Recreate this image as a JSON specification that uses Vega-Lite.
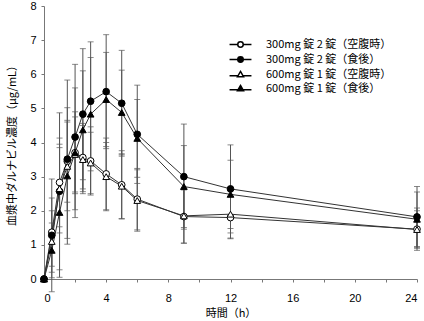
{
  "$schema": "https://vega.github.io/schema/vega-lite/v6.json",
  "width": 373,
  "height": 273,
  "autosize": {"type": "none"},
  "padding": {"left": 44, "top": 6, "right": 7, "bottom": 42},
  "background": "white",
  "config": {
    "view": {"stroke": null},
    "font": "Liberation Sans",
    "axis": {"grid": false, "domainColor": "#777", "tickColor": "#777", "tickSize": 3, "labelColor": "#000", "labelFontSize": 11, "labelFont": "Liberation Sans", "titleFont": "Noto Sans CJK JP", "titleFontSize": 11, "titleFontWeight": "normal", "titleColor": "#000"}
  },
  "resolve": {"axis": {"x": "independent"}, "scale": {"shape": "independent", "fill": "independent"}},
  "data": {
    "values": [
      {"s": "300mg 錠 2 錠（空腹時）", "t": 0, "m": 0, "sd": 0},
      {"s": "300mg 錠 2 錠（空腹時）", "t": 0.5, "m": 1.37, "sd": 1.0},
      {"s": "300mg 錠 2 錠（空腹時）", "t": 1, "m": 2.83, "sd": 1.3},
      {"s": "300mg 錠 2 錠（空腹時）", "t": 1.5, "m": 3.45, "sd": 1.2},
      {"s": "300mg 錠 2 錠（空腹時）", "t": 2, "m": 3.7, "sd": 1.2},
      {"s": "300mg 錠 2 錠（空腹時）", "t": 2.5, "m": 3.56, "sd": 1.0},
      {"s": "300mg 錠 2 錠（空腹時）", "t": 3, "m": 3.46, "sd": 1.0},
      {"s": "300mg 錠 2 錠（空腹時）", "t": 4, "m": 3.08, "sd": 1.05},
      {"s": "300mg 錠 2 錠（空腹時）", "t": 5, "m": 2.76, "sd": 1.0},
      {"s": "300mg 錠 2 錠（空腹時）", "t": 6, "m": 2.34, "sd": 0.9},
      {"s": "300mg 錠 2 錠（空腹時）", "t": 9, "m": 1.83, "sd": 0.78},
      {"s": "300mg 錠 2 錠（空腹時）", "t": 12, "m": 1.8, "sd": 0.62},
      {"s": "300mg 錠 2 錠（空腹時）", "t": 24, "m": 1.46, "sd": 0.62},
      {"s": "300mg 錠 2 錠（食後）", "t": 0, "m": 0, "sd": 0},
      {"s": "300mg 錠 2 錠（食後）", "t": 0.5, "m": 1.28, "sd": 1.65},
      {"s": "300mg 錠 2 錠（食後）", "t": 1, "m": 2.57, "sd": 2.3},
      {"s": "300mg 錠 2 錠（食後）", "t": 1.5, "m": 3.51, "sd": 2.32},
      {"s": "300mg 錠 2 錠（食後）", "t": 2, "m": 4.16, "sd": 2.13},
      {"s": "300mg 錠 2 錠（食後）", "t": 2.5, "m": 4.83, "sd": 1.92},
      {"s": "300mg 錠 2 錠（食後）", "t": 3, "m": 5.21, "sd": 1.74},
      {"s": "300mg 錠 2 錠（食後）", "t": 4, "m": 5.49, "sd": 1.67},
      {"s": "300mg 錠 2 錠（食後）", "t": 5, "m": 5.15, "sd": 1.55},
      {"s": "300mg 錠 2 錠（食後）", "t": 6, "m": 4.24, "sd": 1.44},
      {"s": "300mg 錠 2 錠（食後）", "t": 9, "m": 3.0, "sd": 1.54},
      {"s": "300mg 錠 2 錠（食後）", "t": 12, "m": 2.64, "sd": 1.29},
      {"s": "300mg 錠 2 錠（食後）", "t": 24, "m": 1.82, "sd": 0.89},
      {"s": "600mg 錠 1 錠（空腹時）", "t": 0, "m": 0, "sd": 0},
      {"s": "600mg 錠 1 錠（空腹時）", "t": 0.5, "m": 1.1, "sd": 0.9},
      {"s": "600mg 錠 1 錠（空腹時）", "t": 1, "m": 2.65, "sd": 1.3},
      {"s": "600mg 錠 1 錠（空腹時）", "t": 1.5, "m": 3.3, "sd": 1.3},
      {"s": "600mg 錠 1 錠（空腹時）", "t": 2, "m": 3.65, "sd": 1.1},
      {"s": "600mg 錠 1 錠（空腹時）", "t": 2.5, "m": 3.5, "sd": 1.0},
      {"s": "600mg 錠 1 錠（空腹時）", "t": 3, "m": 3.4, "sd": 0.9},
      {"s": "600mg 錠 1 錠（空腹時）", "t": 4, "m": 3.0, "sd": 1.0},
      {"s": "600mg 錠 1 錠（空腹時）", "t": 5, "m": 2.72, "sd": 0.95},
      {"s": "600mg 錠 1 錠（空腹時）", "t": 6, "m": 2.3, "sd": 0.9},
      {"s": "600mg 錠 1 錠（空腹時）", "t": 9, "m": 1.85, "sd": 0.8},
      {"s": "600mg 錠 1 錠（空腹時）", "t": 12, "m": 1.9, "sd": 0.7},
      {"s": "600mg 錠 1 錠（空腹時）", "t": 24, "m": 1.45, "sd": 0.55},
      {"s": "600mg 錠 1 錠（食後）", "t": 0, "m": 0, "sd": 0},
      {"s": "600mg 錠 1 錠（食後）", "t": 0.5, "m": 0.84, "sd": 0.8},
      {"s": "600mg 錠 1 錠（食後）", "t": 1, "m": 1.95, "sd": 1.9},
      {"s": "600mg 錠 1 錠（食後）", "t": 1.5, "m": 3.02, "sd": 2.0},
      {"s": "600mg 錠 1 錠（食後）", "t": 2, "m": 3.7, "sd": 1.9},
      {"s": "600mg 錠 1 錠（食後）", "t": 2.5, "m": 4.37, "sd": 1.73},
      {"s": "600mg 錠 1 錠（食後）", "t": 3, "m": 4.83, "sd": 1.66},
      {"s": "600mg 錠 1 錠（食後）", "t": 4, "m": 5.26, "sd": 1.38},
      {"s": "600mg 錠 1 錠（食後）", "t": 5, "m": 4.88, "sd": 1.24},
      {"s": "600mg 錠 1 錠（食後）", "t": 6, "m": 4.12, "sd": 1.14},
      {"s": "600mg 錠 1 錠（食後）", "t": 9, "m": 2.71, "sd": 1.2},
      {"s": "600mg 錠 1 錠（食後）", "t": 12, "m": 2.48, "sd": 1.0},
      {"s": "600mg 錠 1 錠（食後）", "t": 24, "m": 1.75, "sd": 0.8}
    ]
  },
  "layer": [
    {
      "mark": {"type": "errorbar", "ticks": {"size": 6, "color": "#555", "strokeWidth": 1}, "rule": {"color": "#555", "strokeWidth": 1}},
      "encoding": {
        "x": {"field": "t", "type": "quantitative", "scale": {"domain": [0, 24]},
          "axis": {"orient": "bottom", "values": [0, 4, 8, 12, 16, 20, 24], "title": "時間（h）", "labelPadding": 10, "titlePadding": 4}},
        "y": {"field": "m", "type": "quantitative", "scale": {"domain": [0, 8]},
          "axis": {"values": [0, 1, 2, 3, 4, 5, 6, 7, 8], "title": "血漿中ダルナビル濃度（μg/mL）", "labelPadding": 5, "titlePadding": 12}},
        "yError": {"field": "sd"}
      }
    },
    {
      "mark": {"type": "line", "color": "#333", "strokeWidth": 1},
      "encoding": {
        "x": {"field": "t", "type": "quantitative", "axis": {"orient": "bottom", "values": [2, 6, 10, 14, 18, 22], "labels": false, "domain": false, "title": null}},
        "y": {"field": "m", "type": "quantitative",
          "axis": {"values": [0, 1, 2, 3, 4, 5, 6, 7, 8], "title": "血漿中ダルナビル濃度（μg/mL）", "labelPadding": 5, "titlePadding": 12}},
        "detail": {"field": "s"}
      }
    },
    {
      "mark": {"type": "point", "filled": true, "stroke": "#000", "strokeWidth": 1, "size": 45, "opacity": 1},
      "encoding": {
        "x": {"field": "t", "type": "quantitative", "axis": null},
        "y": {"field": "m", "type": "quantitative",
          "axis": {"values": [0, 1, 2, 3, 4, 5, 6, 7, 8], "title": "血漿中ダルナビル濃度（μg/mL）", "labelPadding": 5, "titlePadding": 12}},
        "shape": {"field": "s", "type": "nominal",
          "scale": {"domain": ["300mg 錠 2 錠（空腹時）", "300mg 錠 2 錠（食後）", "600mg 錠 1 錠（空腹時）", "600mg 錠 1 錠（食後）"], "range": ["circle", "circle", "triangle-up", "triangle-up"]},
          "legend": null},
        "fill": {"field": "s", "type": "nominal",
          "scale": {"domain": ["300mg 錠 2 錠（空腹時）", "300mg 錠 2 錠（食後）", "600mg 錠 1 錠（空腹時）", "600mg 錠 1 錠（食後）"], "range": ["#ffffff", "#000000", "#ffffff", "#000000"]},
          "legend": null}
      }
    },
    {
      "transform": [{"filter": "datum.t < 0"}],
      "mark": {"type": "point", "filled": true, "stroke": "#000", "strokeWidth": 1, "size": 30, "opacity": 1},
      "encoding": {
        "x": {"field": "t", "type": "quantitative", "axis": null},
        "y": {"field": "m", "type": "quantitative",
          "axis": {"values": [0, 1, 2, 3, 4, 5, 6, 7, 8], "title": "血漿中ダルナビル濃度（μg/mL）", "labelPadding": 5, "titlePadding": 12}},
        "shape": {"field": "s", "type": "nominal",
          "scale": {"domain": ["300mg 錠 2 錠（空腹時）", "300mg 錠 2 錠（食後）", "600mg 錠 1 錠（空腹時）", "600mg 錠 1 錠（食後）"],
            "range": ["M-4,0H-1M1,0H4M-1,0A1,1,0,1,1,1,0A1,1,0,1,1,-1,0Z", "M-4,0H-1M1,0H4M-1,0A1,1,0,1,1,1,0A1,1,0,1,1,-1,0Z", "M-4,0.45H-0.8M0.8,0.45H4M0,-1.1L1.1,0.8L-1.1,0.8Z", "M-4,0.45H-0.8M0.8,0.45H4M0,-1.1L1.1,0.8L-1.1,0.8Z"]},
          "legend": {"title": null, "orient": "none", "legendX": 191, "legendY": 33, "labelFont": "Noto Sans CJK JP", "labelFontSize": 11, "labelColor": "#000", "labelOffset": 20, "rowPadding": 2, "symbolSize": 30,
            "encode": {"symbols": {"update": {"stroke": {"value": "#000000"}, "strokeWidth": {"value": 1}}}}}},
        "fill": {"field": "s", "type": "nominal",
          "scale": {"domain": ["300mg 錠 2 錠（空腹時）", "300mg 錠 2 錠（食後）", "600mg 錠 1 錠（空腹時）", "600mg 錠 1 錠（食後）"], "range": ["#ffffff", "#000000", "#ffffff", "#000000"]},
          "legend": {"title": null, "orient": "none", "legendX": 191, "legendY": 33, "labelFont": "Noto Sans CJK JP", "labelFontSize": 11, "labelColor": "#000", "labelOffset": 20, "rowPadding": 2, "symbolSize": 30,
            "encode": {"symbols": {"update": {"stroke": {"value": "#000000"}, "strokeWidth": {"value": 1}}}}}}
      }
    }
  ]
}
